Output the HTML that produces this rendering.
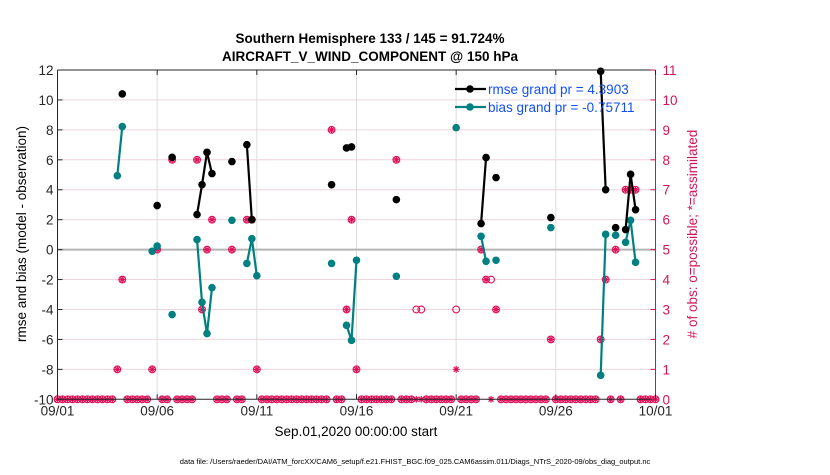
<!DOCTYPE html>
<html><head><meta charset="utf-8"><style>
body{margin:0;background:#fff;font-family:"Liberation Sans",sans-serif}
svg text{font-family:"Liberation Sans",sans-serif}
</style></head><body>
<svg id="chart" width="830" height="470" viewBox="0 0 830 470">
<rect width="830" height="470" fill="#fff"/>
<g id="grid"></g><g id="marks"></g><g id="axes"></g>
<text x="370" y="43" text-anchor="middle" font-size="13.5" font-weight="bold">Southern Hemisphere 133 / 145 = 91.724%</text>
<text x="370" y="61" text-anchor="middle" font-size="13.5" font-weight="bold">AIRCRAFT_V_WIND_COMPONENT @ 150 hPa</text>
<text x="356" y="436" text-anchor="middle" font-size="13.5">Sep.01,2020 00:00:00 start</text>
<text transform="translate(26,234) rotate(-90)" text-anchor="middle" font-size="13.5">rmse and bias (model - observation)</text>
<text transform="translate(697,234) rotate(-90)" text-anchor="middle" font-size="13.5" fill="#d4145a"># of obs: o=possible; *=assimilated</text>
<text x="415" y="464" text-anchor="middle" font-size="7.5">data file: /Users/raeder/DAI/ATM_forcXX/CAM6_setup/f.e21.FHIST_BGC.f09_025.CAM6assim.011/Diags_NTrS_2020-09/obs_diag_output.nc</text>
<g id="legend">
<line x1="455" y1="89" x2="486" y2="89" stroke="#000" stroke-width="2.2"/><circle cx="470" cy="89" r="3.8" fill="#000"/>
<text x="488" y="94" font-size="13.5" fill="#1450f0">rmse grand pr = 4.3903</text>
<line x1="455" y1="107" x2="486" y2="107" stroke="#008080" stroke-width="2.2"/><circle cx="470" cy="107" r="3.8" fill="#008080"/>
<text x="488" y="112" font-size="13.5" fill="#1450f0">bias grand pr = -0.75711</text>
</g>
</svg>
<script>
const rmseT=[13,20,23,28,29,30,31,35,38,39,55,58,59,68,85,86,88,99,109,110,112,114,115,116];
const rmseV=[10.4,2.94,6.17,2.34,4.34,6.5,5.08,5.88,7.01,2.0,4.34,6.79,6.86,3.34,1.74,6.15,4.81,2.14,11.91,4.0,1.47,1.34,5.03,2.67];
const biasT=[12,13,19,20,23,28,29,30,31,35,38,39,40,55,58,59,60,68,80,85,86,88,99,109,110,112,114,115,116];
const biasV=[4.94,8.22,-0.11,0.24,-4.34,0.67,-3.52,-5.61,-2.54,1.96,-0.92,0.73,-1.74,-0.92,-5.06,-6.06,-0.71,-1.78,8.15,0.89,-0.78,-0.71,1.47,-8.4,1.02,0.96,0.49,1.96,-0.85];
const possT=[12,13,19,20,23,28,29,30,31,35,38,39,40,55,58,59,60,68,72,73,80,85,86,87,88,99,109,110,112,114,115,116];
const possN=[1,4,1,5,8,8,3,5,6,5,6,6,1,9,3,6,1,8,3,3,3,5,4,4,3,2,2,4,5,7,7,7];
const assimT=[12,13,19,20,23,28,29,30,31,35,38,39,40,55,58,59,60,68,80,85,86,88,99,109,110,112,114,115,116];
const assimN=[1,4,1,5,8,8,3,5,6,5,6,6,1,9,3,6,1,8,1,5,4,3,2,2,4,5,7,7,7];
const xTicks=["09/01","09/06","09/11","09/16","09/21","09/26","10/01"];
const yTicks=[12,10,8,6,4,2,0,-2,-4,-6,-8,-10];
const y2Ticks=[0,1,2,3,4,5,6,7,8,9,10,11];
const NS="http://www.w3.org/2000/svg";
const X0=57.5,X1=655.5,Y0=70,Y1=399.3;
const xs=t=>X0+t*(X1-X0)/120;
const ys=v=>Y1-(v+10)*(Y1-Y0)/22;
const ys2=n=>Y1-n*(Y1-Y0)/11;
function mk(p,tag,a){const e=document.createElementNS(NS,tag);for(const k in a)e.setAttribute(k,a[k]);p.appendChild(e);return e;}
const G=document.getElementById('grid'),M=document.getElementById('marks'),A=document.getElementById('axes');
yTicks.forEach(v=>{if(v!==0&&v!==12&&v!==-10)mk(G,'line',{x1:X0,x2:X1,y1:ys(v),y2:ys(v),stroke:'#f0d4dc','stroke-width':1});});
xTicks.forEach((l,i)=>{const x=xs(i*20);if(i>0&&i<6)mk(G,'line',{x1:x,x2:x,y1:Y0,y2:Y1,stroke:'#dcdcdc','stroke-width':1});});
mk(G,'line',{x1:X0,x2:X1,y1:ys(0),y2:ys(0),stroke:'#b4b4b4','stroke-width':2});
for(let t=0;t<=120;t++){
  let pi=possT.indexOf(t),ai=assimT.indexOf(t);
  const p=pi>=0?possN[pi]:0,a=ai>=0?assimN[ai]:0;
  const c=mk(M,'circle',{cx:xs(t),cy:ys2(p),r:3.4,fill:'none',stroke:'#e0105a','stroke-width':1.1});
  
  
  const g=mk(M,'g',{stroke:'#e0105a','stroke-width':1.2});
  
  
  const cx=xs(t),cy=ys2(a);
  [[0,3.4],[3.4,0],[2.4,2.4],[2.4,-2.4]].forEach(([dx,dy])=>mk(g,'line',{x1:cx-dx,y1:cy-dy,x2:cx+dx,y2:cy+dy}));
}
function series(T,V,col,name){
  for(let i=1;i<T.length;i++){if(T[i]-T[i-1]===1){const l=mk(M,'line',{x1:xs(T[i-1]),y1:ys(V[i-1]),x2:xs(T[i]),y2:ys(V[i]),stroke:col,'stroke-width':2.2});
  
  }}
  T.forEach((t,i)=>{const c=mk(M,'circle',{cx:xs(t),cy:ys(V[i]),r:3.8,fill:col});
  
  });
}
series(biasT,biasV,'#008080','bias');
series(rmseT,rmseV,'#000','rmse');
mk(A,'line',{x1:X0,x2:X0,y1:Y0,y2:Y1,stroke:'#262626','stroke-width':1});
mk(A,'line',{x1:X0,x2:X1,y1:Y0,y2:Y0,stroke:'#262626','stroke-width':1});
mk(A,'line',{x1:X0,x2:X1,y1:Y1,y2:Y1,stroke:'#262626','stroke-width':1});
mk(A,'line',{x1:X1,x2:X1,y1:Y0,y2:Y1,stroke:'#d4145a','stroke-width':1});
yTicks.forEach(v=>{mk(A,'line',{x1:X0,x2:X0+5,y1:ys(v),y2:ys(v),stroke:'#262626'});
 const t=mk(A,'text',{x:X0-4,y:ys(v)+5,'text-anchor':'end','font-size':13.5,fill:'#262626'});t.textContent=v;
 
 });
y2Ticks.forEach(n=>{mk(A,'line',{x1:X1-5,x2:X1,y1:ys2(n),y2:ys2(n),stroke:'#d4145a'});
 const t=mk(A,'text',{x:X1+7,y:ys2(n)+5,'font-size':13.5,fill:'#d4145a'});t.textContent=n;
 
 });
xTicks.forEach((l,i)=>{const x=xs(i*20);mk(A,'line',{x1:x,x2:x,y1:Y1,y2:Y1-5,stroke:'#262626'});mk(A,'line',{x1:x,x2:x,y1:Y0,y2:Y0+5,stroke:'#262626'});
 const t=mk(A,'text',{x:x,y:Y1+16,'text-anchor':'middle','font-size':13.5,fill:'#262626'});t.textContent=l;
 
 });
</script>
</body></html>
